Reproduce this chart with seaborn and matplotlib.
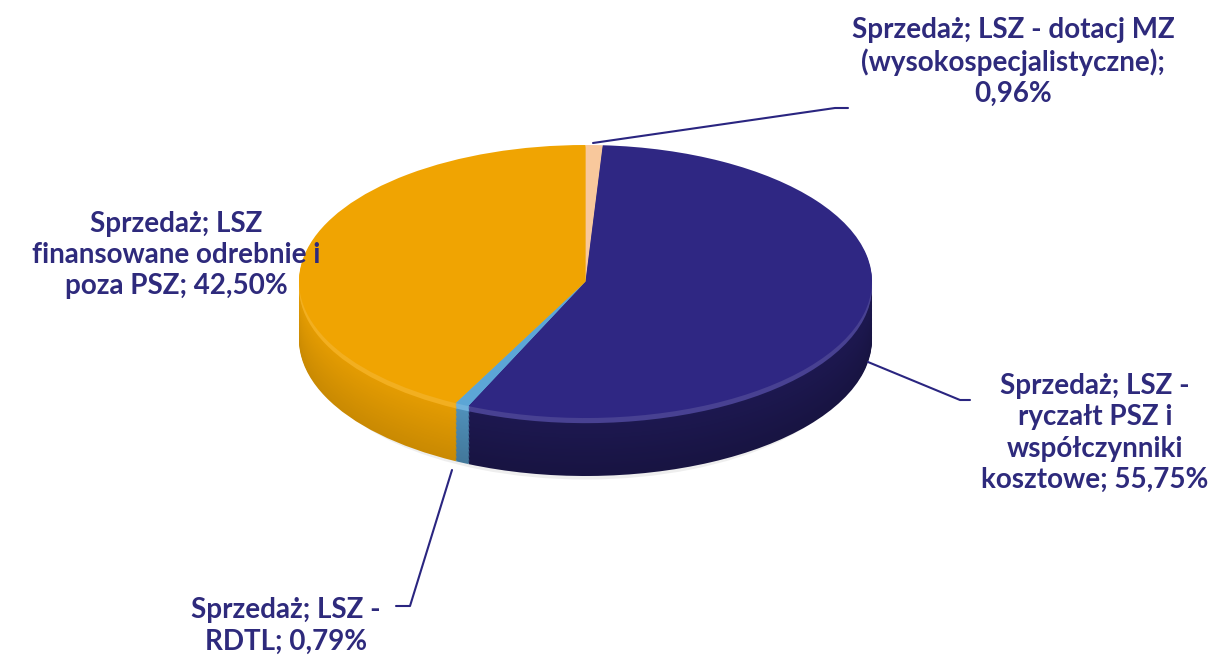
import numpy as np
import matplotlib
matplotlib.use("Agg")
import matplotlib.pyplot as plt
import matplotlib.colors as mcolors
import seaborn as sns

# data, clockwise from 12 o'clock
labels = ["Sprzedaż; LSZ - dotacj MZ\n(wysokospecjalistyczne);\n0,96%",
          "Sprzedaż; LSZ -\nryczałt PSZ i\nwspółczynniki\nkosztowe; 55,75%",
          "Sprzedaż; LSZ -\nRDTL; 0,79%",
          "Sprzedaż; LSZ\nfinansowane odrebnie i\npoza PSZ; 42,50%"]
values = [0.96, 55.75, 0.79, 42.50]
colors = ["#F8C89C", "#2F2783", "#5CA6D6", "#F0A402"]

# how dark the side wall gets (near top, at bottom) for each slice
wall_top = [0.92, 0.62, 0.88, 0.96]
wall_bot = [0.82, 0.50, 0.72, 0.84]

sns.set_theme(style="white")
plt.rcParams['font.family'] = ['Lato', 'DejaVu Sans']
text_color = "#2E2A7C"

W, H = 1214, 657
fig = plt.figure(figsize=(W / 100, H / 100), dpi=100)

# pie geometry in pixels (top face ellipse)
cx, cy, rx, ry, depth = 585.5, 281.5, 286.5, 136.5, 58

ax = fig.add_axes([0, 0, 1, 1])
ax.set_axis_off()


def shade(c, f):
    r, g, b = mcolors.to_rgb(c)
    if f < 1:
        return (r * f, g * f, b * f)
    f = f - 1
    return (r + (1 - r) * f, g + (1 - g) * f, b + (1 - b) * f)


# faint shadow under the disc
ax.pie([1], colors=["#d0d0d0"], radius=0.96, center=(0.0, -(depth + 9) / ry),
       wedgeprops=dict(linewidth=0, alpha=0.35))

# side wall built from stacked layers
n = 45
for i in range(n, 0, -1):
    t = i / n  # 1 = bottom, 0 = top
    if t < 0.1:
        cols = [shade(c, 1.12) for c in colors]
    else:
        cols = [shade(c, a + (b - a) * t) for c, a, b in zip(colors, wall_top, wall_bot)]
    ax.pie(values, colors=cols, startangle=90, counterclock=False, radius=1,
           center=(0.0, -depth * t / ry), wedgeprops=dict(linewidth=0))

# top face
ax.pie(values, colors=colors, startangle=90, counterclock=False, radius=1,
       center=(0.0, 0.0), wedgeprops=dict(linewidth=0))

ax.set_aspect('auto')
ax.set_xlim(-cx / rx, (W - cx) / rx)
ax.set_ylim((cy - H) / ry, cy / ry)

# overlay in pixel coordinates for labels and leader lines
ov = fig.add_axes([0, 0, 1, 1])
ov.set_xlim(0, W)
ov.set_ylim(H, 0)
ov.set_axis_off()
ov.patch.set_alpha(0)

label_pos = [(1013, 62), (1095, 433), (286, 626), (176, 255)]
for lab, (x, y) in zip(labels, label_pos):
    ov.text(x, y, lab, ha="center", va="center", fontsize=20,
            fontweight="bold", color=text_color, linespacing=1.25)

leaders = [[(593, 143), (835, 108), (848, 108)],
           [(868, 362), (960, 400), (970, 400)],
           [(452, 470), (410, 606), (396, 606)]]
for pts in leaders:
    xs, ys = zip(*pts)
    ov.plot(xs, ys, color="#2A2580", lw=1.5)

fig.savefig("out.png", dpi=100)
